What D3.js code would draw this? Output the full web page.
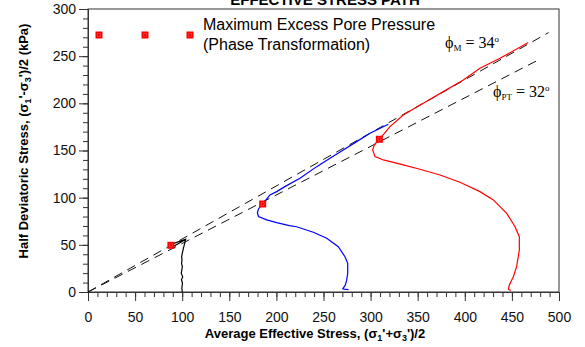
<!DOCTYPE html>
<html>
<head>
<meta charset="utf-8">
<script src="https://cdnjs.cloudflare.com/ajax/libs/d3/7.8.5/d3.min.js"></script>
<style>
  body { margin: 0; background: #fff; }
  svg text { font-family: "Liberation Sans", Arial, sans-serif; }
</style>
</head>
<body>
<div id="stress_path"></div>
<script>
// Effective stress path: p' vs q for three tests

// ---- data (kPa) ----
var xTicks = [0, 50, 100, 150, 200, 250, 300, 350, 400, 450, 500]
var yTicks = [0, 50, 100, 150, 200, 250, 300]

// black: p0 = 100
var path100 = [[100.1, 0], [99.6, 4], [100.3, 9.5], [99.2, 13], [100.5, 16], [99, 20], [99.5, 23],
    [100.2, 27], [99.3, 30], [99.8, 34], [99.4, 37.5], [100.3, 42], [101.2, 46], [102.6, 51.6],
    [103.7, 55.9], [88, 50.5], [91, 48.5], [103, 55.3]]

// blue: p0 = 275
var path275 = [[276.5, 2.5], [272, 3], [270.5, 3.5], [273, 7], [274.5, 12], [275.7, 19.8], [275.7, 30.4],
    [272.8, 37.4], [265.7, 48], [253.4, 56.9], [239.2, 63.3], [221.5, 69.2], [213.7, 70.3],
    [200.3, 73.5], [189.7, 76.4], [181, 80], [179.8, 84], [181, 88], [185.4, 93.3], [193.2, 102.9],
    [200.3, 106.4], [209, 111.7], [225, 120.5], [242.8, 132.9], [256.9, 141.8], [271, 150.6],
    [285.2, 159.4], [299.4, 168.3], [318.8, 177.8]]

// red: p0 = 445
var path445 = [[449, 1.5], [446.2, 2.9], [447.3, 7.4], [451.5, 16.2], [455, 26.8], [457.9, 44.5],
    [457.9, 58.6], [453.3, 69.2], [444.5, 83.4], [430.3, 97.6], [416.1, 106.4], [394.9, 116.3],
    [373.7, 124], [352.4, 130.1], [334.7, 134.7], [313.5, 140], [304.7, 143.5], [302.2, 150.6],
    [304, 156], [309.3, 161.9], [320.6, 175.3], [334.7, 187.7], [356, 200.1], [377.2, 212.4],
    [398.4, 224.8], [416.1, 237.2], [437.4, 247.8], [467.4, 264.4]]

// maximum excess pore pressure points
var ptPoints = [[88, 49.5], [185.4, 93.3], [309.3, 161.9]]

// failure lines
var lineM = [[0, 0], [489, 275]]
var linePT = [[0, 0], [480, 247]]

// ---- layout ----
var width = 585,
    height = 347
var margin = { top: 9, right: 26, bottom: 55, left: 88 }
var plotW = 559 - margin.left,
    plotH = 292 - margin.top

var svg = d3.select("#stress_path")
    .append("svg")
    .attr("width", width)
    .attr("height", height)

var x = d3.scaleLinear().domain([0, 500]).range([margin.left, margin.left + plotW])
var y = d3.scaleLinear().domain([0, 300]).range([margin.top + plotH, margin.top])

// title, mostly cut off at the top
svg.append("text")
    .attr("x", 325)
    .attr("y", 5)
    .attr("text-anchor", "middle")
    .style("font-size", "15px")
    .style("font-weight", "bold")
    .text("EFFECTIVE STRESS PATH")

// box
svg.append("rect")
    .attr("x", x(0))
    .attr("y", y(300))
    .attr("width", plotW)
    .attr("height", plotH)
    .attr("fill", "none")
    .attr("stroke", "#333")
    .attr("stroke-width", 1)

// minor ticks
var minor = d3.range(0, 501, 10)
svg.append("g")
    .attr("transform", "translate(0," + y(0) + ")")
    .call(d3.axisBottom(x).tickValues(minor).tickSize(5).tickFormat(""))
svg.append("g")
    .attr("transform", "translate(" + x(0) + ",0)")
    .call(d3.axisLeft(y).tickValues(d3.range(0, 301, 10)).tickSize(5).tickFormat(""))

// major ticks with labels
var xAxis = svg.append("g")
    .attr("transform", "translate(0," + y(0) + ")")
    .call(d3.axisBottom(x).tickValues(xTicks).tickSize(9).tickPadding(11))
var yAxis = svg.append("g")
    .attr("transform", "translate(" + x(0) + ",0)")
    .call(d3.axisLeft(y).tickValues(yTicks).tickSize(9).tickPadding(3))

svg.selectAll(".domain").attr("stroke", "#333")
svg.selectAll(".tick line").attr("stroke", "#333")
svg.selectAll(".tick text")
    .style("font-family", "'Liberation Sans', Arial, sans-serif")
    .style("font-size", "14px")
    .attr("fill", "#111")

// axis titles
var xTitle = svg.append("text")
    .attr("x", 315)
    .attr("y", 338)
    .attr("text-anchor", "middle")
    .style("font-size", "13px")
    .style("font-weight", "bold")
xTitle.append("tspan").text("Average Effective Stress, (\u03c3")
xTitle.append("tspan").attr("dy", 3).style("font-size", "9px").text("1")
xTitle.append("tspan").attr("dy", -3).text("'+\u03c3")
xTitle.append("tspan").attr("dy", 3).style("font-size", "9px").text("3")
xTitle.append("tspan").attr("dy", -3).text("')/2")

var yTitle = svg.append("text")
    .attr("transform", "translate(28,141) rotate(-90)")
    .attr("text-anchor", "middle")
    .style("font-size", "13px")
    .style("font-weight", "bold")
yTitle.append("tspan").text("Half Deviatoric Stress, (\u03c3")
yTitle.append("tspan").attr("dy", 3).style("font-size", "9px").text("1")
yTitle.append("tspan").attr("dy", -3).text("'-\u03c3")
yTitle.append("tspan").attr("dy", 3).style("font-size", "9px").text("3")
yTitle.append("tspan").attr("dy", -3).text("')/2 (kPa)")

// failure lines
var line = d3.line()
    .x(function (d) { return x(d[0]) })
    .y(function (d) { return y(d[1]) })

svg.selectAll("failLines")
    .data([lineM, linePT])
    .enter()
    .append("path")
    .attr("d", line)
    .attr("fill", "none")
    .attr("stroke", "#111")
    .attr("stroke-width", 1)
    .attr("stroke-dasharray", "9,6")

// stress paths
var paths = [
    { pts: path100, color: "#000" },
    { pts: path275, color: "#0000ff" },
    { pts: path445, color: "#ff0000" }
]
svg.selectAll("stressPaths")
    .data(paths)
    .enter()
    .append("path")
    .attr("d", function (d) { return line(d.pts) })
    .attr("fill", "none")
    .attr("stroke", function (d) { return d.color })
    .attr("stroke-width", 1.2)

// markers
function drawMarker(g, cx, cy) {
    g.append("rect")
        .attr("x", cx - 3.5).attr("y", cy - 3.5)
        .attr("width", 7).attr("height", 7)
        .attr("fill", "#ff0000")
    g.append("rect")
        .attr("x", cx - 1.5).attr("y", cy - 1.5)
        .attr("width", 3).attr("height", 3)
        .attr("fill", "none")
        .attr("stroke", "#ff9a9a")
        .attr("stroke-width", 0.6)
        .attr("stroke-dasharray", "1,1")
}
ptPoints.forEach(function (d) { drawMarker(svg, x(d[0]), y(d[1])) })

// legend
var legendMarks = [99, 145, 190]
legendMarks.forEach(function (lx) { drawMarker(svg, lx, 35) })
svg.append("text")
    .attr("x", 203).attr("y", 30)
    .style("font-size", "16px")
    .text("Maximum Excess Pore Pressure")
svg.append("text")
    .attr("x", 203).attr("y", 50)
    .style("font-size", "16px")
    .text("(Phase Transformation)")

// friction angle labels
function phiLabel(lx, ly, sub, deg) {
    var t = svg.append("text")
        .attr("x", lx).attr("y", ly)
        .style("font-family", "'Liberation Serif', 'Times New Roman', serif")
        .style("font-size", "16px")
    t.append("tspan").text("\u03d5")
    t.append("tspan").attr("dy", 3).style("font-size", "9px").text(sub)
    t.append("tspan").attr("dy", -3).text(" = " + deg)
    t.append("tspan").attr("dy", -6).style("font-size", "9px").text("o")
}
phiLabel(445, 48, "M", "34")
phiLabel(493, 97, "PT", "32")
</script>
</body>
</html>
